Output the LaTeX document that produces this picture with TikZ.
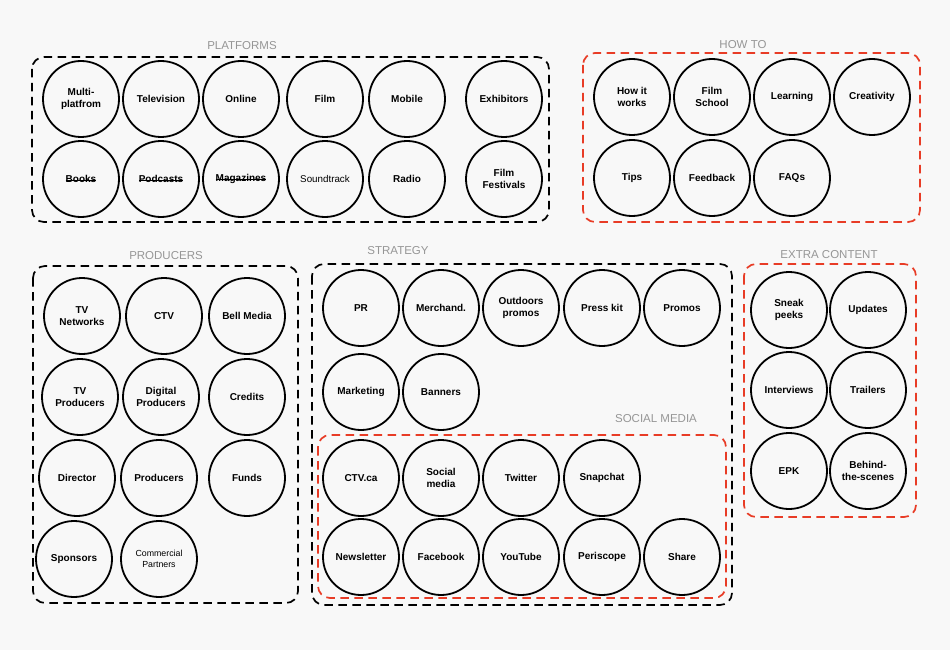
\documentclass[tikz,border=0pt]{standalone}
\usepackage{fontspec}
\setmainfont{Liberation Sans}
\usepackage{xcolor}
\usepackage{tikz}
\usetikzlibrary{calc}
\definecolor{bgcolor}{RGB}{248,248,248}
\definecolor{framered}{RGB}{232,60,38}
\definecolor{labelgray}{RGB}{150,150,150}
\newcommand\strikeword[1]{\sbox0{#1}\rlap{\usebox0}\rule[0.32ex]{\wd0}{0.5pt}}
\tikzset{
	bubble/.style={circle, draw=black, line width=1.8pt, minimum size=76pt,
		inner sep=0pt, align=center, font=\bfseries\fontsize{10}{12}\selectfont},
	plainbubble/.style={bubble, font=\fontsize{9.8}{12}\selectfont},
	smallbubble/.style={bubble, font=\fontsize{8.8}{11}\selectfont},
	blackframe/.style={draw=black, line width=1.7pt, dash pattern=on 8.5pt off 5.5pt,
		rounded corners=12pt},
	redframe/.style={blackframe, draw=framered},
	grouplabel/.style={text=labelgray, inner sep=0pt, font=\fontsize{11.5}{13}\selectfont},
}

\begin{document}
\begin{tikzpicture}[x=1pt, y=-1pt]
	%% Background
	\fill[bgcolor] (0,0) rectangle (950,650);

	%% Frames
	\coordinate[](pa) at (32,57);
	\coordinate[](pb) at (549,222);
	\coordinate[](ha) at (583,53);
	\coordinate[](hb) at (920,222);
	\coordinate[](ra) at (33,266);
	\coordinate[](rb) at (298,603);
	\coordinate[](sa) at (312,264);
	\coordinate[](sb) at (732,605);
	\coordinate[](ma) at (318,435);
	\coordinate[](mb) at (726,598);
	\coordinate[](ea) at (744,264);
	\coordinate[](eb) at (916,517);

	\draw[blackframe] (pa) rectangle (pb);
	\draw[redframe] (ha) rectangle (hb);
	\draw[blackframe] (ra) rectangle (rb);
	\draw[blackframe] (sa) rectangle (sb);
	\draw[redframe] (ma) rectangle (mb);
	\draw[redframe] (ea) rectangle (eb);

	%% Frame titles
	\node[grouplabel] (platforms) at (242,46) {PLATFORMS};
	\node[grouplabel] (howto) at (743,45) {HOW TO};
	\node[grouplabel] (producers) at (166,256) {PRODUCERS};
	\node[grouplabel] (strategy) at (398,251) {STRATEGY};
	\node[grouplabel] (social) at (656,419) {SOCIAL MEDIA};
	\node[grouplabel] (extra) at (829,255) {EXTRA CONTENT};

	%% Platforms
	\node[bubble] (multi) at (81,99) {Multi-\\platfrom};
	\node[bubble] (television) at (161,99) {Television};
	\node[bubble] (online) at (241,99) {Online};
	\node[bubble] (film) at (325,99) {Film};
	\node[bubble] (mobile) at (407,99) {Mobile};
	\node[bubble] (exhibitors) at (504,99) {Exhibitors};
	%
	\node[bubble] (books) at (81,179) {\strikeword{Books}};
	\node[bubble] (podcasts) at (161,179) {\strikeword{Podcasts}};
	\node[bubble] (magazines) at (241,179) {\strikeword{Magazines}};
	\node[plainbubble] (soundtrack) at (325,179) {Soundtrack};
	\node[bubble] (radio) at (407,179) {Radio};
	\node[bubble] (festivals) at (504,179) {Film\\Festivals};

	%% How to
	\node[bubble] (howworks) at (632,97) {How it\\works};
	\node[bubble] (school) at (712,97) {Film\\School};
	\node[bubble] (learning) at (792,97) {Learning};
	\node[bubble] (creativity) at (872,97) {Creativity};
	%
	\node[bubble] (tips) at (632,178) {Tips};
	\node[bubble] (feedback) at (712,178) {Feedback};
	\node[bubble] (faqs) at (792,178) {FAQs};

	%% Producers
	\node[bubble] (networks) at (82,316) {TV\\Networks};
	\node[bubble] (ctv) at (164,316) {CTV};
	\node[bubble] (bell) at (247,316) {Bell Media};
	%
	\node[bubble] (tvprod) at (80,397) {TV\\Producers};
	\node[bubble] (digiprod) at (161,397) {Digital\\Producers};
	\node[bubble] (credits) at (247,397) {Credits};
	%
	\node[bubble] (director) at (77,478) {Director};
	\node[bubble] (prod) at (159,478) {Producers};
	\node[bubble] (funds) at (247,478) {Funds};
	%
	\node[bubble] (sponsors) at (74,559) {Sponsors};
	\node[smallbubble] (partners) at (159,559) {Commercial\\Partners};

	%% Strategy
	\node[bubble] (pr) at (361,308) {PR};
	\node[bubble] (merch) at (441,308) {Merchand.};
	\node[bubble] (outdoors) at (521,308) {Outdoors\\promos};
	\node[bubble] (presskit) at (602,308) {Press kit};
	\node[bubble] (promos) at (682,308) {Promos};
	%
	\node[bubble] (marketing) at (361,392) {Marketing};
	\node[bubble] (banners) at (441,392) {Banners};

	%% Social media
	\node[bubble] (ctvca) at (361,478) {CTV.ca};
	\node[bubble] (socialmedia) at (441,478) {Social\\media};
	\node[bubble] (twitter) at (521,478) {Twitter};
	\node[bubble] (snapchat) at (602,478) {Snapchat};
	%
	\node[bubble] (newsletter) at (361,557) {Newsletter};
	\node[bubble] (facebook) at (441,557) {Facebook};
	\node[bubble] (youtube) at (521,557) {YouTube};
	\node[bubble] (periscope) at (602,557) {Periscope};
	\node[bubble] (share) at (682,557) {Share};

	%% Extra content
	\node[bubble] (sneak) at (789,310) {Sneak\\peeks};
	\node[bubble] (updates) at (868,310) {Updates};
	%
	\node[bubble] (interviews) at (789,390) {Interviews};
	\node[bubble] (trailers) at (868,390) {Trailers};
	%
	\node[bubble] (epk) at (789,471) {EPK};
	\node[bubble] (behind) at (868,471) {Behind-\\the-scenes};

\end{tikzpicture}
\end{document}
